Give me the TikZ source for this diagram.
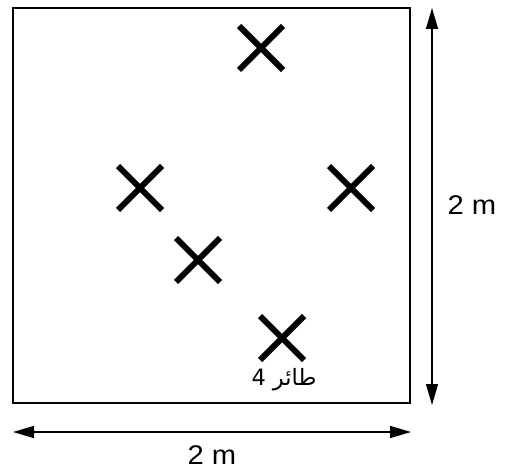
\documentclass[tikz,border=0pt]{standalone}
\usepackage{fontspec}
\setmainfont{Liberation Sans}
\newfontfamily\dimfont[FakeStretch=1.08]{Liberation Sans}
\newfontfamily\arabicfont[Script=Arabic]{DejaVu Sans}
\TeXXeTstate=1
\usetikzlibrary{arrows.meta, shapes.misc, positioning}

\begin{document}
\begin{tikzpicture}[
    x=1pt, y=-1pt,
    bird/.style={cross out, draw, line width=6pt, minimum size=38pt, inner sep=0pt},
    measure/.style={line width=1.4pt, {Triangle[length=21pt,width=12pt]}-{Triangle[length=21pt,width=12pt]}},
    dimlabel/.style={font=\dimfont\fontsize{27}{30}\selectfont, inner sep=0pt},
  ]

  \useasboundingbox (0,0) rectangle (505,470);

  % ---- the field ----------------------------------------------------------
  \draw[line width=1.2pt] (13,8) rectangle (410,403);

  % ---- the birds ----------------------------------------------------------
  \node[bird] (b1) at (261,48)  {};
  \node[bird] (b2) at (140,188) {};
  \node[bird] (b3) at (351,188) {};
  \node[bird] (b4) at (198,260) {};
  \node[bird] (b5) at (282,338) {};
  \node[font=\fontsize{22.5}{25}\selectfont, inner sep=0pt] (lab) at (284,380)
       {\arabicfont\beginR طائر 4\endR};

  % ---- dimensions ---------------------------------------------------------
  \coordinate (vtop) at (432,8);
  \coordinate (vbot) at (432,405);
  \coordinate (hleft) at (13,432);
  \coordinate (hright) at (411,432);
  \draw[measure] (vtop) -- (vbot);
  \draw[measure] (hleft) -- (hright);
  \node[dimlabel] (hgt) at (472,205) {2 m};
  \node[dimlabel] (wid) at (212,455) {2 m};

\end{tikzpicture}
\end{document}
